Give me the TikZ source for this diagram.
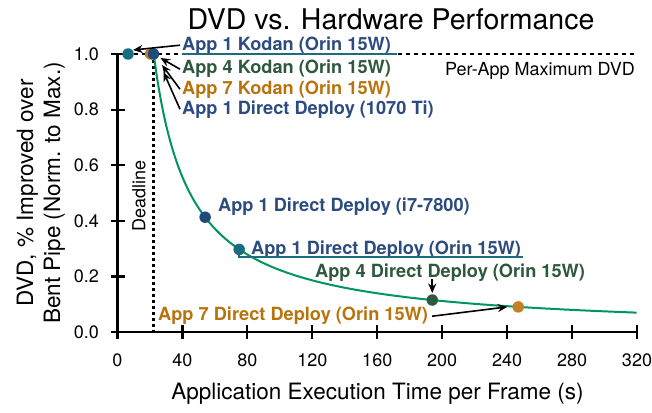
\documentclass[tikz,border=0pt]{standalone}
\usepackage{fontspec}
\setmainfont{TeX Gyre Heros}
\usetikzlibrary{arrows.meta,calc}

\definecolor{dvdblue}{RGB}{44,76,128}
\definecolor{dvdgreen}{RGB}{46,88,62}
\definecolor{dvdorange}{RGB}{184,115,14}
\definecolor{dvdteal}{RGB}{28,108,126}
\definecolor{curvegreen}{RGB}{0,148,94}
\definecolor{dotblue}{RGB}{34,74,120}
\definecolor{dotteal}{RGB}{24,110,128}
\definecolor{dotgreen}{RGB}{44,90,62}
\definecolor{dotorange}{RGB}{196,128,36}

\begin{document}
\begin{tikzpicture}[x=1pt,y=-1pt,
  axisline/.style={line width=2.4pt},
  tickmark/.style={line width=2.2pt},
  ticklabel/.style={font=\fontsize{18}{20}\selectfont, inner sep=0pt},
  axislabel/.style={font=\fontsize{22.5}{27}\selectfont, inner sep=0pt},
  ptmark/.style={circle, inner sep=0pt, minimum size=11.5pt, draw=none},
  lbl/.style={font=\bfseries\fontsize{18.2}{20}\selectfont, inner sep=0pt, anchor=base west},
  callout/.style={-{Stealth[length=9.5pt,width=8pt]}, line width=1.6pt},
  maxline/.style={line width=2pt, dash pattern=on 4pt off 4pt},
  deadline/.style={line width=2.2pt, dash pattern=on 3pt off 3pt},
  underl/.style={dvdteal, line width=1.8pt},
  curve/.style={curvegreen, line width=2pt}
]
\useasboundingbox (0,0) rectangle (652,412);

% title and axis titles
\node[font=\fontsize{28.5}{32}\selectfont, anchor=base, inner sep=0pt] (title) at (391,30) {DVD vs. Hardware Performance};
\node[axislabel, anchor=base] (xlab) at (377.5,399) {Application Execution Time per Frame (s)};
\node[axislabel, rotate=90, align=center] (ylab) at (41,193) {DVD, \% Improved over\\Bent Pipe (Norm. to Max.)};

% per-app maximum and deadline guides
\coordinate (maxL) at (117.5,54);
\coordinate (maxR) at (636,54);
\draw[maxline] (maxL) -- (maxR);
\node[font=\fontsize{18}{20}\selectfont, anchor=base east, inner sep=0pt] (maxlab) at (635,75) {Per-App Maximum DVD};
\coordinate (dlTop) at (153.5,60);
\coordinate (dlBot) at (153.5,332);
\draw[deadline] (dlTop) -- (dlBot);
\node[font=\fontsize{18}{20}\selectfont, rotate=90, inner sep=0pt] (dllab) at (139,196) {Deadline};

% axes with ticks
\coordinate (origin) at (117.5,332);
\coordinate (xend) at (637,332);
\coordinate (ytop) at (117.5,54);
\draw[axisline] (ytop) -- (origin) -- (xend);
\foreach \k in {0,...,8}{
  \pgfmathsetmacro{\xx}{117.5+64.9375*\k}
  \pgfmathtruncatemacro{\lab}{40*\k}
  \draw[tickmark] (\xx,325) -- (\xx,339);
  \node[ticklabel] (xt\k) at (\xx,360) {\lab};
}
\foreach \k/\lab in {0/0.0,1/0.2,2/0.4,3/0.6,4/0.8,5/1.0}{
  \pgfmathsetmacro{\yy}{332-55.6*\k}
  \draw[tickmark] (110.5,\yy) -- (124.5,\yy);
  \node[ticklabel, anchor=east] (yt\k) at (99,\yy) {\lab};
}

% data
\begin{scope}[shift={(117.5,332)}, x=1.6225pt, y=278pt]
  \draw[curve] plot[domain=22.3:320, samples=160, smooth] (\x,{22.3/\x});
  \node[ptmark, fill=dotteal] (kA) at (6.5,1) {};
  \node[ptmark, fill=dotorange] (kC) at (20.4,1) {};
  \node[ptmark, fill=dotblue] (dB) at (22.2,1) {};
  \node[ptmark, fill=dotblue] (i7) at (54,0.413) {};
  \node[ptmark, fill=dotteal] (o1) at (75,0.297) {};
  \node[ptmark, fill=dotgreen] (o4) at (194,0.115) {};
  \node[ptmark, fill=dotorange] (o7) at (247,0.0903) {};
\end{scope}

% labels
\node[lbl, text=dvdblue]   (lA) at (182,51)  {App 1 Kodan (Orin 15W)};
\node[lbl, text=dvdgreen]  (lB) at (182,74)  {App 4 Kodan (Orin 15W)};
\node[lbl, text=dvdorange] (lC) at (182,94)  {App 7 Kodan (Orin 15W)};
\node[lbl, text=dvdblue]   (lD) at (182,114) {App 1 Direct Deploy (1070 Ti)};
\node[lbl, text=dvdblue]   (lE) at (218,211) {App 1 Direct Deploy (i7-7800)};
\node[lbl, text=dvdblue]   (lF) at (251,254) {App 1 Direct Deploy (Orin 15W)};
\node[lbl, text=dvdgreen]  (lG) at (315,277) {App 4 Direct Deploy (Orin 15W)};
\node[lbl, text=dvdorange] (lH) at (158,320) {App 7 Direct Deploy (Orin 15W)};

% underlines for the Orin 15W levels
\coordinate (uA) at (397,54);
\draw[underl] (lA.base west |- uA) -- (uA);
\coordinate (uF) at (523,257);
\draw[underl] (o1.center) -- (o1.center |- uF) -- (uF);

% callout arrows
\draw[callout] ($(lA.west)+(-2,-1)$) -- ($(kA.center)+(5,-4)$);
\draw[callout] ($(lB.west)+(-2,0)$) -- ($(dB.center)+(7,4)$);
\draw[callout] ($(lC.west)+(-2,0)$) -- ($(dB.center)+(8.5,11)$);
\draw[callout] ($(lD.west)+(-2,0)$) -- ($(dB.center)+(10,18)$);
\draw[callout] ($(o4.center)+(0,-21)$) -- ($(o4.center)+(0,-7)$);
\draw[callout] ($(lH.east)+(4,1)$) -- ($(o7.center)+(-11,0)$);
\end{tikzpicture}
\end{document}
